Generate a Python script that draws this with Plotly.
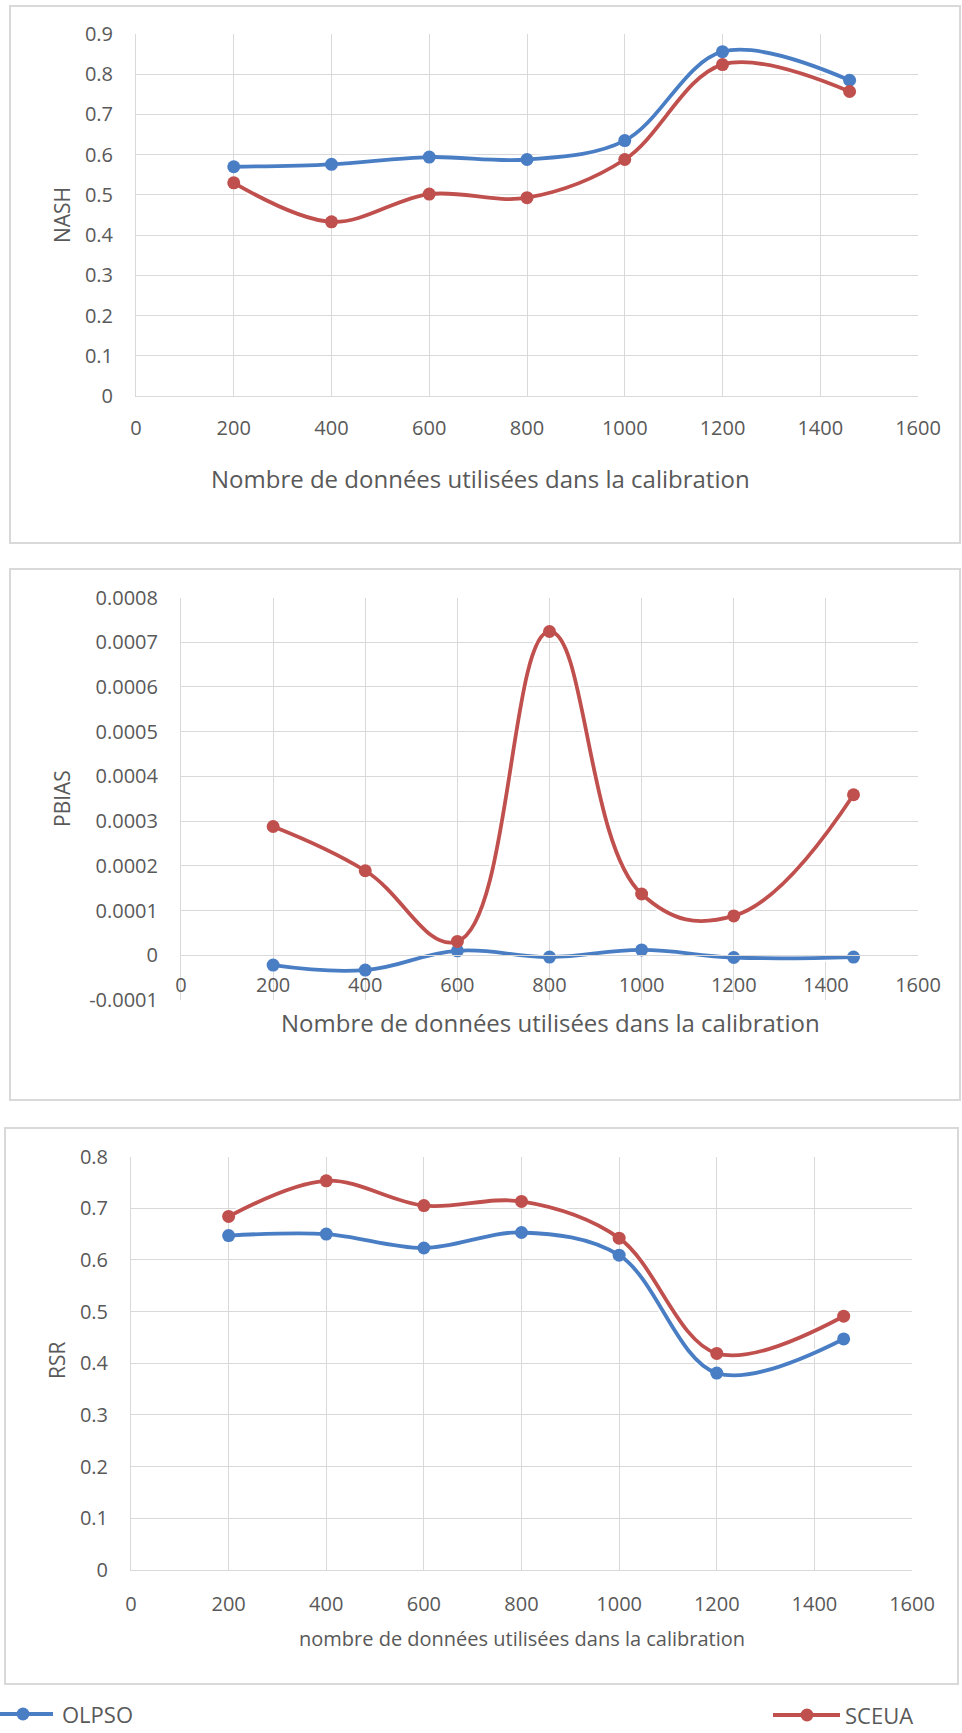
import plotly.graph_objects as go

# ---------------- data ----------------
x_vals = [200, 400, 600, 800, 1000, 1200, 1460]

nash_olpso = [0.570, 0.576, 0.594, 0.588, 0.635, 0.856, 0.785]
nash_sceua = [0.530, 0.433, 0.502, 0.493, 0.588, 0.824, 0.757]

pbias_olpso = [-0.000022, -0.000033, 0.000010, -0.000004, 0.000012, -0.000005, -0.000004]
pbias_sceua = [0.000288, 0.000189, 0.000031, 0.000724, 0.000137, 0.000088, 0.000359]

rsr_olpso = [0.647, 0.650, 0.623, 0.653, 0.609, 0.381, 0.447]
rsr_sceua = [0.684, 0.753, 0.705, 0.713, 0.642, 0.419, 0.491]

series_names = ["OLPSO", "SCEUA"]

x_ticks = [0, 200, 400, 600, 800, 1000, 1200, 1400, 1600]
x_ticktext = ["0", "200", "400", "600", "800", "1000", "1200", "1400", "1600"]
nash_ticks = [0, 0.1, 0.2, 0.3, 0.4, 0.5, 0.6, 0.7, 0.8, 0.9]
nash_ticktext = ["0", "0.1", "0.2", "0.3", "0.4", "0.5", "0.6", "0.7", "0.8", "0.9"]
pbias_ticks = [-0.0001, 0, 0.0001, 0.0002, 0.0003, 0.0004, 0.0005, 0.0006, 0.0007, 0.0008]
pbias_ticktext = ["-0.0001", "0", "0.0001", "0.0002", "0.0003", "0.0004", "0.0005",
                  "0.0006", "0.0007", "0.0008"]
rsr_ticks = [0, 0.1, 0.2, 0.3, 0.4, 0.5, 0.6, 0.7, 0.8]
rsr_ticktext = ["0", "0.1", "0.2", "0.3", "0.4", "0.5", "0.6", "0.7", "0.8"]

xlabel_main = "Nombre de données utilisées dans la calibration"
xlabel_low = "nombre de données utilisées dans la calibration"

# ---------------- styling ----------------
W, H = 962, 1733
BLUE = "#4A7EC4"
RED = "#C0504D"
GRID = "#D9D9D9"
TXT = "#595959"
FONT = "Open Sans"


def px(x):
    return x / W


def py(y):
    return 1 - y / H


fig = go.Figure()

panels = [
    ("x", "y", nash_olpso, nash_sceua, 1.0),
    ("x2", "y2", pbias_olpso, pbias_sceua, 1.2),
    ("x3", "y3", rsr_olpso, rsr_sceua, 1.0),
]
for xa, ya, o, s, sm in panels:
    for name, vals, col in ((series_names[0], o, BLUE), (series_names[1], s, RED)):
        # soft halo
        fig.add_trace(go.Scatter(
            x=x_vals, y=vals, xaxis=xa, yaxis=ya, mode="lines",
            line=dict(color="rgba(255,255,255,0.85)", width=8, shape="spline", smoothing=sm),
            showlegend=False, hoverinfo="skip"))
        fig.add_trace(go.Scatter(
            x=x_vals, y=vals, xaxis=xa, yaxis=ya, name=name,
            mode="lines+markers",
            line=dict(color=col, width=3.8, shape="spline", smoothing=sm),
            marker=dict(color=col, size=13),
            showlegend=False))

axis_common = dict(showgrid=True, gridcolor=GRID, gridwidth=1, zeroline=False,
                   showline=True, linecolor=GRID, linewidth=1, ticks="",
                   tickfont=dict(family=FONT, size=20, color=TXT), fixedrange=True)

# zero position of panel 2 x-axis
y2_top, y2_bot = 597.5, 1000.0
y2_range = [-0.0001, 0.0008]
zero_px = y2_bot - (0 - y2_range[0]) / (y2_range[1] - y2_range[0]) * (y2_bot - y2_top)

fig.update_layout(
    width=W, height=H, autosize=False,
    margin=dict(l=0, r=0, t=0, b=0, pad=0, autoexpand=False),
    paper_bgcolor="white", plot_bgcolor="white",
    font=dict(family=FONT, color=TXT),
    showlegend=False,
    xaxis=dict(domain=[px(136), px(918)], range=[0, 1600], anchor="y",
               tickvals=x_ticks, ticktext=x_ticktext, ticklabelstandoff=14, **axis_common),
    yaxis=dict(domain=[py(396), py(34)], range=[0, 0.9], anchor="x",
               tickvals=nash_ticks, ticktext=nash_ticktext, ticklabelstandoff=18, **axis_common),
    xaxis2=dict(domain=[px(181), px(918)], range=[0, 1600], anchor="free",
                position=py(zero_px),
                tickvals=x_ticks, ticktext=x_ticktext, ticklabelstandoff=12, **axis_common),
    yaxis2=dict(domain=[py(y2_bot), py(y2_top)], range=y2_range, anchor="x2",
                tickvals=pbias_ticks, ticktext=pbias_ticktext, ticklabelstandoff=18, **axis_common),
    xaxis3=dict(domain=[px(131), px(912)], range=[0, 1600], anchor="y3",
                tickvals=x_ticks, ticktext=x_ticktext, ticklabelstandoff=16, **axis_common),
    yaxis3=dict(domain=[py(1570), py(1156.5)], range=[0, 0.8], anchor="x3",
                tickvals=rsr_ticks, ticktext=rsr_ticktext, ticklabelstandoff=18, **axis_common),
)

# panel borders
for (x0, y0, x1, y1) in [(10, 6, 960, 543), (10, 569, 960, 1100), (5, 1128, 958, 1684)]:
    fig.add_shape(type="rect", xref="paper", yref="paper",
                  x0=px(x0), x1=px(x1), y0=py(y1), y1=py(y0),
                  line=dict(color=GRID, width=2), fillcolor="rgba(0,0,0,0)", layer="below")

# axis titles
ann = [
    (480, 478, xlabel_main, 24, 0),
    (550, 1022, xlabel_main, 24, 0),
    (522, 1638, xlabel_low, 20, 0),
    (62, 215, "NASH", 21, -90),
    (62, 799, "PBIAS", 21, -90),
    (57, 1361, "RSR", 21, -90),
]
for x, y, t, s, a in ann:
    fig.add_annotation(x=px(x), y=py(y), xref="paper", yref="paper", text=t,
                       showarrow=False, textangle=a, xanchor="center", yanchor="middle",
                       font=dict(family=FONT, size=s, color=TXT))

# legend keys (split left / right as in the original)
legend_items = [
    (series_names[0], BLUE, 0, 53, 23, 1714, 60),
    (series_names[1], RED, 773, 840, 807, 1715, 843),
]
for name, col, lx0, lx1, mx, ly, tx in legend_items:
    fig.add_shape(type="line", xref="paper", yref="paper",
                  x0=px(lx0), x1=px(lx1), y0=py(ly), y1=py(ly),
                  line=dict(color=col, width=4))
    fig.add_shape(type="circle", xref="paper", yref="paper",
                  x0=px(mx - 6.5), x1=px(mx + 6.5), y0=py(ly + 6.5), y1=py(ly - 6.5),
                  line=dict(color=col, width=0), fillcolor=col)
    fig.add_annotation(x=px(tx), y=py(ly), xref="paper", yref="paper", text=name,
                       showarrow=False, xanchor="left", yanchor="middle",
                       font=dict(family=FONT, size=22, color=TXT))

fig.write_html("out.html")
